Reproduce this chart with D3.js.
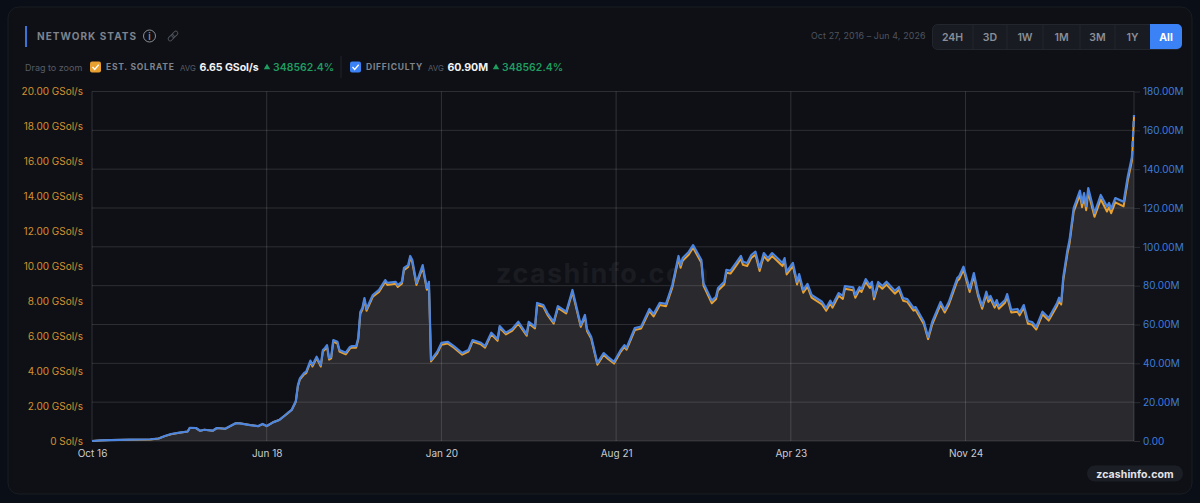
<!DOCTYPE html>
<html lang="en">
  <head>
    <meta charset="UTF-8">
    <title>Network Stats</title>
    <script src="https://d3js.org/d3.v7.min.js"></script>
    <style>
      html, body { margin: 0; padding: 0; background: #0a0e16; overflow: hidden; }
      svg { display: block; font-family: Inter, "Liberation Sans", sans-serif; }
      .domain { display: none; }
    </style>
  </head>
  <body>
    <script>
      const w = 1200;
      const h = 503;

      // weeks since Oct 27, 2016
      const weeks = [0,4,9,18,28,32,35,38,42,46,47,50,52,54,58,60,64,69,71,76,80,82,84,87,90,92,94,96,98,99,100,102,103,105,106,108,110,111,112,113,114,115,116,118,119,122,124,125,127,128,129,130,131,132,135,138,139,141,142,146,147,149,150,152,153,154,156,159,161,162,163,166,168,171,174,178,181,183,187,189,192,195,196,199,202,205,209,210,213,214,217,219,222,224,228,231,235,237,238,240,243,246,248,251,254,256,257,261,264,268,270,273,276,279,282,283,284,287,289,293,294,298,300,301,304,305,307,310,312,313,315,317,319,321,323,325,327,332,333,334,337,339,340,342,344,346,351,353,355,356,359,361,362,366,367,369,370,372,374,375,376,378,380,382,386,388,390,392,395,396,400,402,404,408,410,412,416,417,419,422,424,426,428,430,431,432,434,435,436,439,440,442,445,446,448,450,452,454,457,460,464,465,466,467,469,470,472,475,476,477,478,479,482,485,488,489,490,492,496,498,500,501];

      // millions
      const difficulty = [0,0.3,0.5,0.7,0.9,1.3,2.6,3.6,4.3,4.9,6.8,6.7,5.3,5.8,5.3,6.7,6.3,9.1,9.1,8.2,7.7,8.8,7.7,9.6,10.8,12.5,14.3,16,20.6,28.8,32.4,35,35.7,41.4,39.1,43.4,39.1,46.9,47.9,49.4,42.7,43.4,52,51.1,46.9,45.5,48.4,48.9,48.9,53,66.4,68.5,73.6,68,75.2,77.8,79.5,82.9,81.4,82,80.3,82,89.1,90.6,95.3,93.2,81.4,90.6,78.8,82,41.7,46,50.5,51.1,48.9,45.3,46.9,52,50.6,48.9,55.8,52.5,59.2,55.8,57.7,61.4,55.1,61.4,58.9,71.1,70,65.9,61.4,69.5,66.6,77.8,59.7,64.9,57.7,53.7,40.2,45.3,43.3,40.8,46.5,49.4,47.9,58.2,58.9,68,65.4,71.2,70.6,80.3,95.3,90.6,94.2,97.5,100.9,93.2,81.4,72.3,74.3,78.8,82,88.1,87.7,92.3,95.3,92.3,91.7,95.8,97.5,89.1,96.8,94.2,96.8,91.7,94.2,87.2,91.7,82,86,77.8,80.9,75.2,71.7,68.5,72.3,70,76.2,74.7,79.8,79.2,75.2,79.3,78.3,83.4,80.3,82,74.3,81.9,79.8,82,77.4,79.3,73.6,73.1,68.5,69,61.4,53.6,61.4,71.6,67.5,71.7,83.9,85,89.8,78.3,86.5,76.2,69.5,76.9,73.1,74.7,70,72.6,69.5,72.6,75.7,67.5,68,66.1,70,61.8,61.3,58.7,66.6,63.3,71.1,73.8,71.7,84.5,98.4,103.5,120,128.9,122.6,127.7,121,130.3,117.4,126.7,120.7,122.6,119.5,125.1,123.2,136.1,146.3,167.9];

      // GSol/s
      const solrate = [0,0.03,0.06,0.07,0.09,0.14,0.28,0.39,0.47,0.54,0.75,0.74,0.58,0.64,0.58,0.74,0.7,1.01,1.01,0.91,0.85,0.97,0.85,1.07,1.2,1.39,1.58,1.77,2.25,3.14,3.53,3.81,3.88,4.52,4.26,4.74,4.26,5.12,5.23,5.4,4.66,4.73,5.69,5.58,5.12,4.96,5.29,5.34,5.34,5.8,7.28,7.51,8.08,7.45,8.25,8.53,8.73,9.1,8.93,9,8.82,9,9.78,9.96,10.48,10.23,8.93,9.93,8.65,9,4.55,5.02,5.51,5.58,5.34,4.94,5.12,5.69,5.53,5.34,6.1,5.73,6.48,6.1,6.3,6.72,6.02,6.72,6.44,7.79,7.68,7.22,6.72,7.62,7.3,8.53,6.53,7.1,6.3,5.87,4.36,4.93,4.71,4.43,5.07,5.39,5.22,6.35,6.43,7.43,7.13,7.78,7.71,8.78,10.43,9.91,10.31,10.67,11.06,10.2,8.9,7.88,8.11,8.61,8.96,9.63,9.58,10.08,10.43,10.08,10.01,10.48,10.66,9.73,10.58,10.31,10.58,10.01,10.31,9.53,10.01,8.95,9.38,8.48,8.83,8.2,7.81,7.45,7.87,7.63,8.31,8.13,8.71,8.63,8.2,8.65,8.53,9.1,8.76,8.95,8.11,8.93,8.71,8.95,8.43,8.65,8.03,7.96,7.46,7.51,6.68,5.83,6.68,7.8,7.35,7.81,9.15,9.27,9.8,8.53,9.43,8.31,7.57,8.38,7.96,8.13,7.63,7.91,7.57,7.91,8.25,7.35,7.4,7.19,7.63,6.71,6.66,6.38,7.25,6.89,7.73,8.03,7.81,9.21,10.73,11.3,13.13,14.08,13.38,13.93,13.21,14.23,12.83,13.83,13.13,13.38,13.03,13.66,13.43,14.9,16.03,18.6];

      const xTickWeeks = [0,84,168,252,336,420];
      const xTickLabels = ["Oct 16","Jun 18","Jan 20","Aug 21","Apr 23","Nov 24"];
      const solTicks = [0,2,4,6,8,10,12,14,16,18,20];
      const diffTicks = [0,20,40,60,80,100,120,140,160,180];
      const rangeLabels = ["24H","3D","1W","1M","3M","1Y","All"];

      const svg = d3.select("body").append("svg")
                    .attr("width", w)
                    .attr("height", h);

      // card
      svg.append("rect")
         .attr("x", 8).attr("y", 7)
         .attr("width", w - 16).attr("height", h - 16)
         .attr("rx", 11)
         .attr("fill", "#0e1015")
         .attr("stroke", "#191c23");

      const xScale = d3.scaleLinear().domain([0, 501]).range([92, 1134]);
      const ySol = d3.scaleLinear().domain([0, 20]).range([441, 91.5]);
      const yDiff = d3.scaleLinear().domain([0, 180]).range([441, 91.5]);

      // watermark
      svg.append("text")
         .attr("x", 603).attr("y", 283)
         .attr("text-anchor", "middle")
         .attr("font-size", 27).attr("font-weight", 700)
         .attr("letter-spacing", 1.4)
         .attr("fill", "#1a1c22")
         .text("zcashinfo.com");

      const points = weeks.map((wk, i) => ({ wk, d: difficulty[i], s: solrate[i] }));

      // area under difficulty
      const area = d3.area()
                     .x(p => xScale(p.wk))
                     .y0(yDiff(0))
                     .y1(p => yDiff(p.d));
      svg.append("path")
         .attr("d", area(points))
         .attr("fill", "#2a2a2e");

      // grid follows the right axis
      svg.append("g")
         .selectAll("line")
         .data(diffTicks)
         .enter().append("line")
         .attr("x1", 92).attr("x2", 1134)
         .attr("y1", d => yDiff(d)).attr("y2", d => yDiff(d))
         .attr("stroke", "#ffffff")
         .attr("stroke-opacity", 0.13);

      svg.append("g")
         .selectAll("line")
         .data(xTickWeeks.concat([501]))
         .enter().append("line")
         .attr("x1", d => xScale(d)).attr("x2", d => xScale(d))
         .attr("y1", 91.5).attr("y2", 441)
         .attr("stroke", "#ffffff")
         .attr("stroke-opacity", 0.14);

      // axes
      const leftAxis = d3.axisLeft(ySol)
                         .tickValues(solTicks)
                         .tickSize(0)
                         .tickPadding(9)
                         .tickFormat(d => d === 0 ? "0 Sol/s" : d3.format(".2f")(d) + " GSol/s");
      const leftG = svg.append("g").attr("transform", "translate(92,0)").call(leftAxis);
      leftG.selectAll("text").attr("fill", "#d49230").attr("font-size", 10).attr("font-family", "Inter");

      const rightAxis = d3.axisRight(yDiff)
                          .tickValues(diffTicks)
                          .tickSize(6)
                          .tickPadding(3)
                          .tickFormat(d => d === 0 ? "0.00" : d3.format(".2f")(d) + "M");
      const rightG = svg.append("g").attr("transform", "translate(1134,0)").call(rightAxis);
      rightG.selectAll("text").attr("fill", "#3f7cdc").attr("font-size", 10).attr("font-family", "Inter");
      rightG.selectAll("line").attr("stroke", "#2b2d33");

      const bottomAxis = d3.axisBottom(xScale)
                           .tickValues(xTickWeeks)
                           .tickSize(0)
                           .tickPadding(9)
                           .tickFormat((d, i) => xTickLabels[i]);
      const bottomG = svg.append("g").attr("transform", "translate(0,441)").call(bottomAxis);
      bottomG.selectAll("text").attr("fill", "#c9ccd2").attr("font-size", 10).attr("font-family", "Inter");

      // lines
      const solLine = d3.line().x(p => xScale(p.wk)).y(p => ySol(p.s));
      const diffLine = d3.line().x(p => xScale(p.wk)).y(p => yDiff(p.d));

      svg.append("path")
         .attr("d", solLine(points))
         .attr("fill", "none")
         .attr("stroke", "#e8a030")
         .attr("stroke-width", 2)
         .attr("stroke-linejoin", "round");

      svg.append("path")
         .attr("d", diffLine(points.slice(0, -1)))
         .attr("fill", "none")
         .attr("stroke", "#4d86e0")
         .attr("stroke-width", 2.2)
         .attr("stroke-linejoin", "round");

      // latest, still open point is dashed
      svg.append("path")
         .attr("d", diffLine(points.slice(-2)))
         .attr("fill", "none")
         .attr("stroke", "#4d86e0")
         .attr("stroke-width", 2.2)
         .attr("stroke-dasharray", "6,4");

      // header
      svg.append("rect")
         .attr("x", 25).attr("y", 26)
         .attr("width", 2).attr("height", 21)
         .attr("fill", "#3b74d8");

      function label(x, y, str, size, weight, fill, spacing, anchor) {
        return svg.append("text")
                  .attr("x", x).attr("y", y)
                  .attr("font-size", size)
                  .attr("font-weight", weight)
                  .attr("fill", fill)
                  .attr("letter-spacing", spacing || 0)
                  .attr("text-anchor", anchor || "start")
                  .text(str);
      }

      label(37, 40, "NETWORK STATS", 10, 700, "#7f838d", 1.05);

      svg.append("circle")
         .attr("cx", 149.5).attr("cy", 36).attr("r", 6)
         .attr("fill", "none").attr("stroke", "#8a8e97").attr("stroke-width", 1);
      label(149.5, 39.5, "i", 9.5, 600, "#8a8e97", 0, "middle");

      // link icon
      const link = svg.append("g")
                      .attr("transform", "translate(173,36) rotate(-45)")
                      .attr("fill", "none")
                      .attr("stroke", "#4d515a")
                      .attr("stroke-width", 1);
      link.append("rect").attr("x", -6).attr("y", -2).attr("width", 7).attr("height", 4).attr("rx", 2);
      link.append("rect").attr("x", -1).attr("y", -2).attr("width", 7).attr("height", 4).attr("rx", 2);

      label(25, 70.5, "Drag to zoom", 9, 400, "#585c66");

      function checkbox(x, color) {
        svg.append("rect")
           .attr("x", x).attr("y", 61.5)
           .attr("width", 11).attr("height", 11).attr("rx", 2)
           .attr("fill", color);
        svg.append("path")
           .attr("d", `M${x + 2.5},67 l2.2,2.4 l4,-4.6`)
           .attr("fill", "none").attr("stroke", "#ffffff").attr("stroke-width", 1.3);
      }

      function triangle(x, y) {
        svg.append("path")
           .attr("transform", `translate(${x},${y})`)
           .attr("d", d3.symbol(d3.symbolTriangle, 18))
           .attr("fill", "#1f9d61");
      }

      checkbox(90, "#e8a030");
      label(106, 70, "EST. SOLRATE", 8.5, 700, "#7f838d", 0.75);
      label(180, 70.5, "AVG", 7.8, 400, "#585c66");
      label(199.5, 71, "6.65 GSol/s", 10.6, 700, "#f2f3f5", -0.1);
      triangle(267, 67.5);
      label(273, 71, "348562.4%", 10.4, 600, "#1f9d61", 0.1);

      svg.append("line")
         .attr("x1", 341).attr("x2", 341)
         .attr("y1", 56).attr("y2", 78)
         .attr("stroke", "#1f222a");

      checkbox(350, "#3b82f6");
      label(366, 70, "DIFFICULTY", 8.5, 700, "#7f838d", 0.75);
      label(428, 70.5, "AVG", 7.8, 400, "#585c66");
      label(447.5, 71, "60.90M", 10.6, 700, "#f2f3f5", -0.1);
      triangle(496, 67.5);
      label(502, 71, "348562.4%", 10.4, 600, "#1f9d61", 0.1);

      // date range and buttons
      label(925.5, 39, "Oct 27, 2016 – Jun 4, 2026", 8.8, 400, "#50545e", 0.15, "end");

      const btnEdges = [932, 973, 1007, 1043, 1080, 1115, 1150, 1182];

      svg.append("rect")
         .attr("x", 932.5).attr("y", 24.5)
         .attr("width", 249).attr("height", 25).attr("rx", 5)
         .attr("fill", "#181b21").attr("stroke", "#23262d");

      svg.append("path")
         .attr("d", "M1150,24 H1177 a5,5 0 0 1 5,5 V44 a5,5 0 0 1 -5,5 H1150 Z")
         .attr("fill", "#3b82f6");

      svg.append("g")
         .selectAll("line")
         .data(btnEdges.slice(1, -2))
         .enter().append("line")
         .attr("x1", d => d).attr("x2", d => d)
         .attr("y1", 25).attr("y2", 49)
         .attr("stroke", "#23262d");

      rangeLabels.forEach((t, i) => {
        const active = t === "All";
        label((btnEdges[i] + btnEdges[i + 1]) / 2, 40.5, t, 10.5, active ? 700 : 600,
              active ? "#ffffff" : "#8a8e97", 0, "middle");
      });

      // corner badge
      svg.append("rect")
         .attr("x", 1087).attr("y", 465.5)
         .attr("width", 96).attr("height", 16).attr("rx", 8)
         .attr("fill", "#1b1e25");
      label(1135, 477.5, "zcashinfo.com", 10.5, 700, "#e4e5e8", 0.1, "middle");
    </script>
  </body>
</html>
